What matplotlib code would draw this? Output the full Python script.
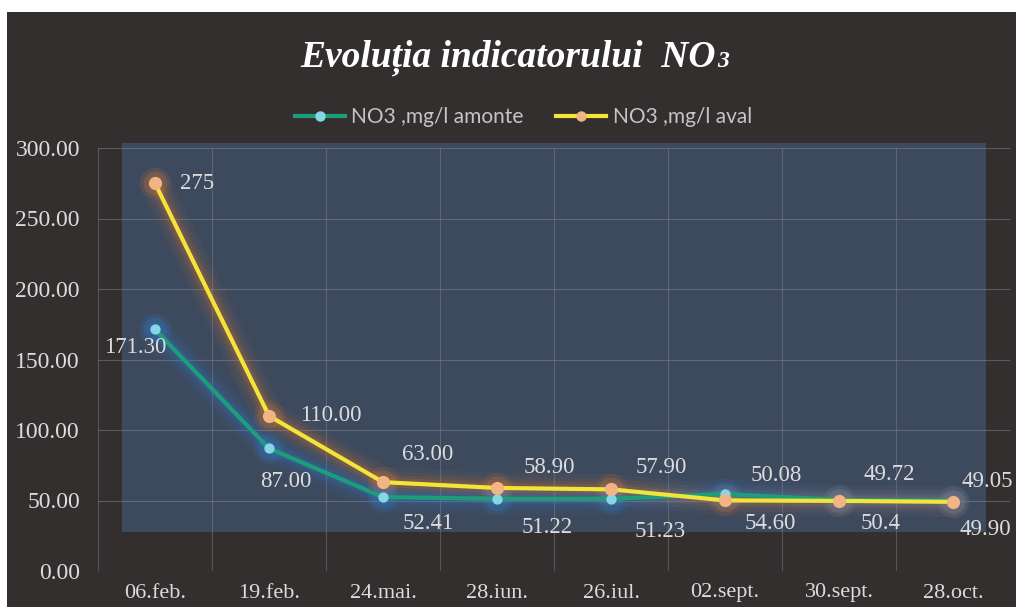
import matplotlib
matplotlib.use('Agg')
import numpy as np
import matplotlib.pyplot as plt
from matplotlib.patches import Rectangle
from matplotlib.lines import Line2D

# data
dates = ['06.feb.', '19.feb.', '24.mai.', '28.iun.', '26.iul.', '02.sept.', '30.sept.', '28.oct.']
amonte = [171.30, 87.00, 52.41, 51.22, 51.23, 54.60, 50.4, 49.90]
aval = [275, 110.00, 63.00, 58.90, 57.90, 50.08, 49.72, 49.05]
amonte_labels = ['171.30', '87.00', '52.41', '51.22', '51.23', '54.60', '50.4', '49.90']
aval_labels = ['275', '110.00', '63.00', '58.90', '57.90', '50.08', '49.72', '49.05']
yticks = [0, 50, 100, 150, 200, 250, 300]

# label offsets in pixels (dx, dy up)
amonte_off = [(-20, -18), (17, -33), (45, -26), (50, -29), (49, -33), (45, -29), (42, -24), (32, -29)]
aval_off = [(42, 0), (62, 0), (45, 28), (52, 20), (50, 22), (51, 25), (50, 26), (34, 20)]

BG = '#332f2f'
PLOT_BG = '#3d4a5e'
GREEN = '#1c9e7a'
YELLOW = '#f3e43a'
TXT = '#dcdcdc'
SERIF = ['Liberation Serif', 'DejaVu Serif']

fig = plt.figure(figsize=(10.16, 6.07), dpi=100, facecolor='white')
fig.patches.append(Rectangle((7 / 1016, 0), 1, (607 - 12) / 607, transform=fig.transFigure,
                             facecolor=BG, edgecolor='none', zorder=-10))

ax = fig.add_axes([98 / 1016, 36 / 607, 912 / 1016, 423 / 607])
ax.set_facecolor('none')
ax.add_patch(Rectangle((0.026, 0.092), 0.948, 0.92, transform=ax.transAxes,
                       facecolor=PLOT_BG, edgecolor='none', zorder=0, clip_on=False))

x = np.arange(len(dates))
ax.set_xlim(-0.5, len(dates) - 0.5)
ax.set_ylim(0, 300)

# grid
for yv in yticks:
    ax.axhline(yv, color='#8a8f99', lw=0.8, alpha=0.45, zorder=1)
for xv in np.arange(-0.5, len(dates), 1.0):
    ax.axvline(xv, color='#8a8f99', lw=0.8, alpha=0.4, zorder=1)

# glow under lines
for lw, a in [(22, 0.05), (16, 0.07), (11, 0.1), (7, 0.14)]:
    ax.plot(x, aval, color='#e8782a', lw=lw, alpha=a, solid_capstyle='round', zorder=2)
    ax.plot(x, amonte, color='#2f7fd6', lw=lw, alpha=a, solid_capstyle='round', zorder=2)
for s, a in [(520, 0.1), (300, 0.16)]:
    ax.scatter(x, aval, s=s, color='#e8823a', alpha=a, lw=0, zorder=2)
    ax.scatter(x, amonte, s=s, color='#2f8ae0', alpha=a, lw=0, zorder=2)

ax.plot(x, amonte, color=GREEN, lw=3, zorder=3)
ax.plot(x, aval, color=YELLOW, lw=3, zorder=4)
ax.scatter(x, amonte, s=55, color='#86d6ea', lw=0, zorder=5)
ax.scatter(x, aval, s=90, color='#f3b483', lw=0, zorder=6)

for i in range(len(dates)):
    dx, dy = aval_off[i]
    ax.annotate(aval_labels[i], (x[i], aval[i]), xytext=(dx * 0.72, dy * 0.72),
                textcoords='offset points', ha='center', va='center', color=TXT,
                fontsize=16.5, family=SERIF, zorder=7, annotation_clip=False)
    dx, dy = amonte_off[i]
    ax.annotate(amonte_labels[i], (x[i], amonte[i]), xytext=(dx * 0.72, dy * 0.72),
                textcoords='offset points', ha='center', va='center', color=TXT,
                fontsize=16.5, family=SERIF, zorder=7, annotation_clip=False)

ax.set_yticks(yticks)
ax.set_yticklabels(['%.2f' % v for v in yticks], family=SERIF, fontsize=17, color=TXT)
ax.set_xticks(x)
ax.set_xticklabels(dates, family=SERIF, fontsize=16, color=TXT)
ax.tick_params(length=0)
ax.tick_params(axis='x', pad=9)
ax.tick_params(axis='y', pad=13)
for sp in ax.spines.values():
    sp.set_visible(False)

# title with small "3"
t = fig.text(0.5, 1 - 67 / 607, 'Evoluția indicatorului  NO', ha='center', va='baseline',
             color='white', fontsize=27, fontweight='bold', fontstyle='italic', family=SERIF)
fig.canvas.draw()
bb = t.get_window_extent()
fig.text(bb.x1 / 1016 + 0.001, 1 - 67 / 607, '3', ha='left', va='baseline', color='white',
         fontsize=17, fontweight='bold', fontstyle='italic', family=SERIF)

handles = [
    Line2D([], [], color=GREEN, lw=3, marker='o', markersize=6.5, markerfacecolor='#86d6ea',
           markeredgecolor='#86d6ea'),
    Line2D([], [], color=YELLOW, lw=3, marker='o', markersize=6.5, markerfacecolor='#f3b483',
           markeredgecolor='#f3b483'),
]
fig.legend(handles, ['NO3 ,mg/l amonte', 'NO3 ,mg/l aval'], loc='center',
           bbox_to_anchor=(0.515, 1 - 117 / 607), ncol=2, frameon=False,
           prop={'family': 'Lato', 'size': 15}, labelcolor='#c4c4c4',
           handlelength=2.4, columnspacing=1.6, handletextpad=0.3)

fig.savefig('out.png', dpi=100, facecolor=fig.get_facecolor())
